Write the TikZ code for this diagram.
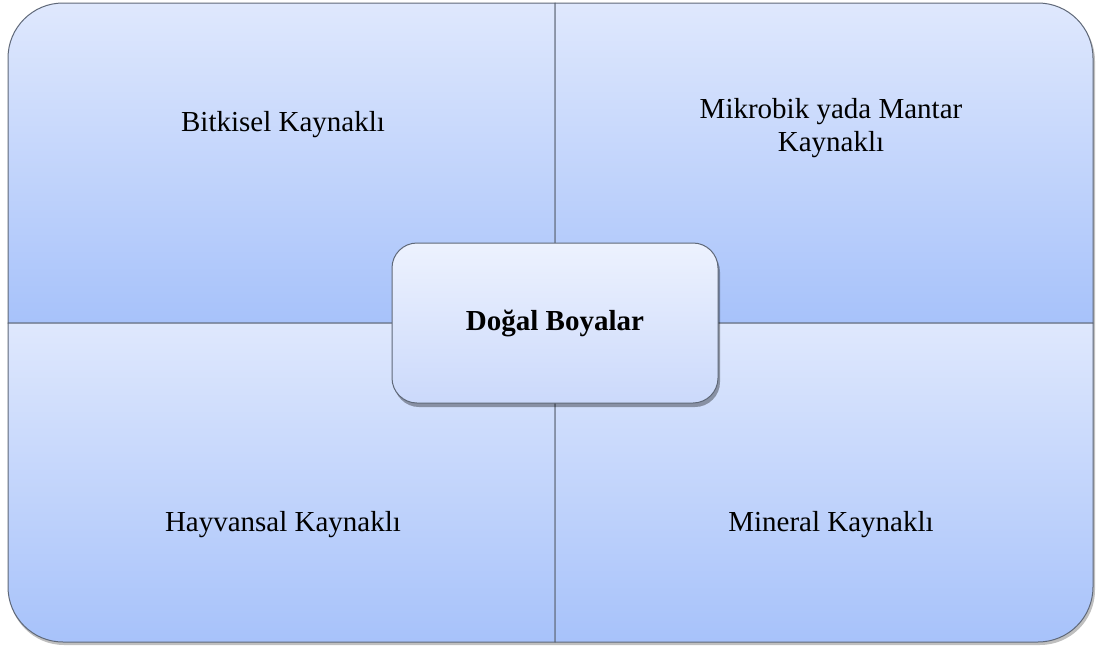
\documentclass[tikz,border=0pt]{standalone}
\usepackage{fontspec}
\setmainfont{Liberation Serif}
\usetikzlibrary{shadows}
\definecolor{qtop}{HTML}{DFE8FD}
\definecolor{qbot}{HTML}{A7C2FA}
\definecolor{ctop}{HTML}{EDF2FE}
\definecolor{cbot}{HTML}{CBD9FB}
\definecolor{edgec}{HTML}{5F6878}
\tikzset{
  quad/.style={top color=qtop, bottom color=qbot, draw=edgec, line width=1pt},
  lbl/.style={font=\fontsize{29}{33}\selectfont, align=center, text=black, inner sep=0pt},
  titlebox/.style={top color=ctop, bottom color=cbot, draw=edgec, line width=1pt,
    rounded corners=25pt, minimum width=326pt, minimum height=160pt,
    font=\fontsize{29}{33}\selectfont\bfseries, align=center,
    drop shadow={shadow xshift=2pt, shadow yshift=-4pt, opacity=0.35, fill=black}},
  outershadow/.style={fill=black, opacity=0.25}
}
\begin{document}
\begin{tikzpicture}[x=1pt,y=-1pt]
\useasboundingbox (0,0) rectangle (1098,648);
% soft shadow of the whole matrix
\fill[outershadow, rounded corners=55pt] (9,6) rectangle (1095,645);
% quadrants
\path[quad] (8,323) -- (8,58) arc[start angle=180,end angle=270,radius=55] -- (555,3) -- (555,323) -- cycle;
\path[quad] (555,3) -- (1038,3) arc[start angle=270,end angle=360,radius=55] -- (1093,323) -- (555,323) -- cycle;
\path[quad] (8,323) -- (555,323) -- (555,642) -- (63,642) arc[start angle=90,end angle=180,radius=55] -- cycle;
\path[quad] (555,323) -- (1093,323) -- (1093,587) arc[start angle=0,end angle=90,radius=55] -- (555,642) -- cycle;
% labels
\node[lbl] (bit) at (283,125) {Bitkisel Kaynaklı};
\node[lbl] (mik) at (831,128) {Mikrobik yada Mantar\\Kaynaklı};
\node[lbl] (hay) at (283,525) {Hayvansal Kaynaklı};
\node[lbl] (min) at (831,525) {Mineral Kaynaklı};
% centre
\node[titlebox] (dog) at (555,323) {\raisebox{-2pt}{Doğal Boyalar}};
\end{tikzpicture}
\end{document}
